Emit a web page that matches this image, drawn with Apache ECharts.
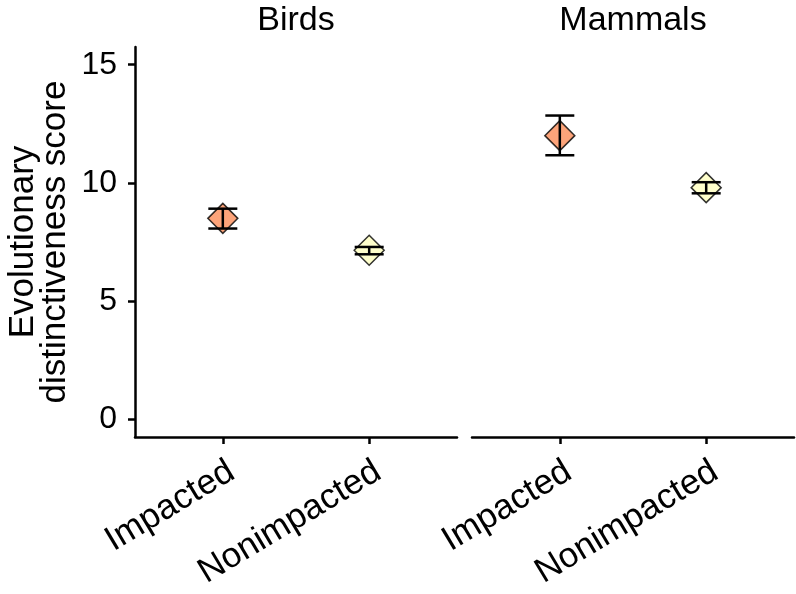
<!DOCTYPE html>
<html>
<head>
<meta charset="utf-8">
<script src="https://cdn.jsdelivr.net/npm/echarts@6/dist/echarts.min.js"></script>
<style>
  html, body { margin: 0; padding: 0; background: #fff; }
  #main { width: 796px; height: 594px; }
</style>
</head>
<body>
<div id="main"></div>
<script>
// categories and panels
const categories = ['Impacted', 'Nonimpacted']
const panels = ['Birds', 'Mammals']
const fillColors = ['#FC8D59', '#FFFFBF']
const yTicks = [0, 5, 10, 15]

// values (mean, lower, upper)
const birdsMean = [8.5, 7.15]
const birdsLower = [8.07, 6.98]
const birdsUpper = [8.91, 7.29]
const mammalsMean = [12.0, 9.8]
const mammalsLower = [11.17, 9.56]
const mammalsUpper = [12.85, 10.03]

const means = [birdsMean, mammalsMean]
const lowers = [birdsLower, mammalsLower]
const uppers = [birdsUpper, mammalsUpper]

const font = 'Liberation Sans, Arial, Helvetica, sans-serif'
const lineColor = '#000'

let myChart = echarts.init(document.getElementById('main'))

const grids = [
  { left: 135, top: 47, width: 322, height: 390 },
  { left: 472, top: 47, width: 322, height: 390 }
]

const xAxes = panels.map((p, i) => ({
  type: 'value',
  gridIndex: i,
  min: 0.4,
  max: 2.6,
  splitLine: { show: false },
  axisLine: { show: true, onZero: false, lineStyle: { color: lineColor, width: 2.5 } },
  axisTick: { show: true, length: 7, customValues: [1, 2], lineStyle: { color: lineColor, width: 2.5 } },
  axisLabel: {
    customValues: [1, 2],
    formatter: (v) => categories[Math.round(v) - 1],
    rotate: 31,
    margin: 17,
    verticalAlign: 'top',
    fontSize: 35,
    color: '#000',
    fontFamily: font
  }
}))

const yAxes = panels.map((p, i) => ({
  type: 'value',
  gridIndex: i,
  min: -0.75,
  max: 15.75,
  show: i === 0,
  name: i === 0 ? 'Evolutionary\ndistinctiveness score' : '',
  nameLocation: 'middle',
  nameRotate: 90,
  nameGap: 64,
  nameTextStyle: { fontSize: 35, color: '#000', fontFamily: font, lineHeight: 32 },
  splitLine: { show: false },
  axisLine: { show: true, onZero: false, lineStyle: { color: lineColor, width: 2.5 } },
  axisTick: { show: true, length: 7, customValues: yTicks, lineStyle: { color: lineColor, width: 2.5 } },
  axisLabel: {
    customValues: yTicks,
    margin: 18,
    fontSize: 32,
    color: '#000',
    fontFamily: font
  }
}))

const series = []
panels.forEach((p, i) => {
  series.push({
    type: 'scatter',
    xAxisIndex: i,
    yAxisIndex: i,
    symbol: 'diamond',
    symbolSize: 30,
    z: 2,
    data: categories.map((c, j) => ({
      value: [j + 1, means[i][j]],
      itemStyle: { color: fillColors[j], borderColor: '#000', borderWidth: 1.5 }
    }))
  })
  series.push({
    type: 'custom',
    xAxisIndex: i,
    yAxisIndex: i,
    z: 3,
    data: categories.map((c, j) => [j + 1, lowers[i][j], uppers[i][j]]),
    renderItem: function (params, api) {
      const lo = api.coord([api.value(0), api.value(1)])
      const hi = api.coord([api.value(0), api.value(2)])
      const w = 14.5
      const style = { stroke: '#000', lineWidth: 2.5 }
      return {
        type: 'group',
        children: [
          { type: 'line', shape: { x1: lo[0], y1: lo[1], x2: hi[0], y2: hi[1] }, style: style },
          { type: 'line', shape: { x1: lo[0] - w, y1: lo[1], x2: lo[0] + w, y2: lo[1] }, style: style },
          { type: 'line', shape: { x1: hi[0] - w, y1: hi[1], x2: hi[0] + w, y2: hi[1] }, style: style }
        ]
      }
    }
  })
})

let option = {
  backgroundColor: '#fff',
  animation: false,
  title: panels.map((p, i) => ({
    text: p,
    left: grids[i].left + grids[i].width / 2,
    textAlign: 'center',
    top: 4,
    padding: 0,
    textStyle: { fontSize: 34, fontWeight: 'normal', color: '#000', fontFamily: font }
  })),
  grid: grids,
  xAxis: xAxes,
  yAxis: yAxes,
  series: series
}
myChart.setOption(option)
</script>
</body>
</html>
